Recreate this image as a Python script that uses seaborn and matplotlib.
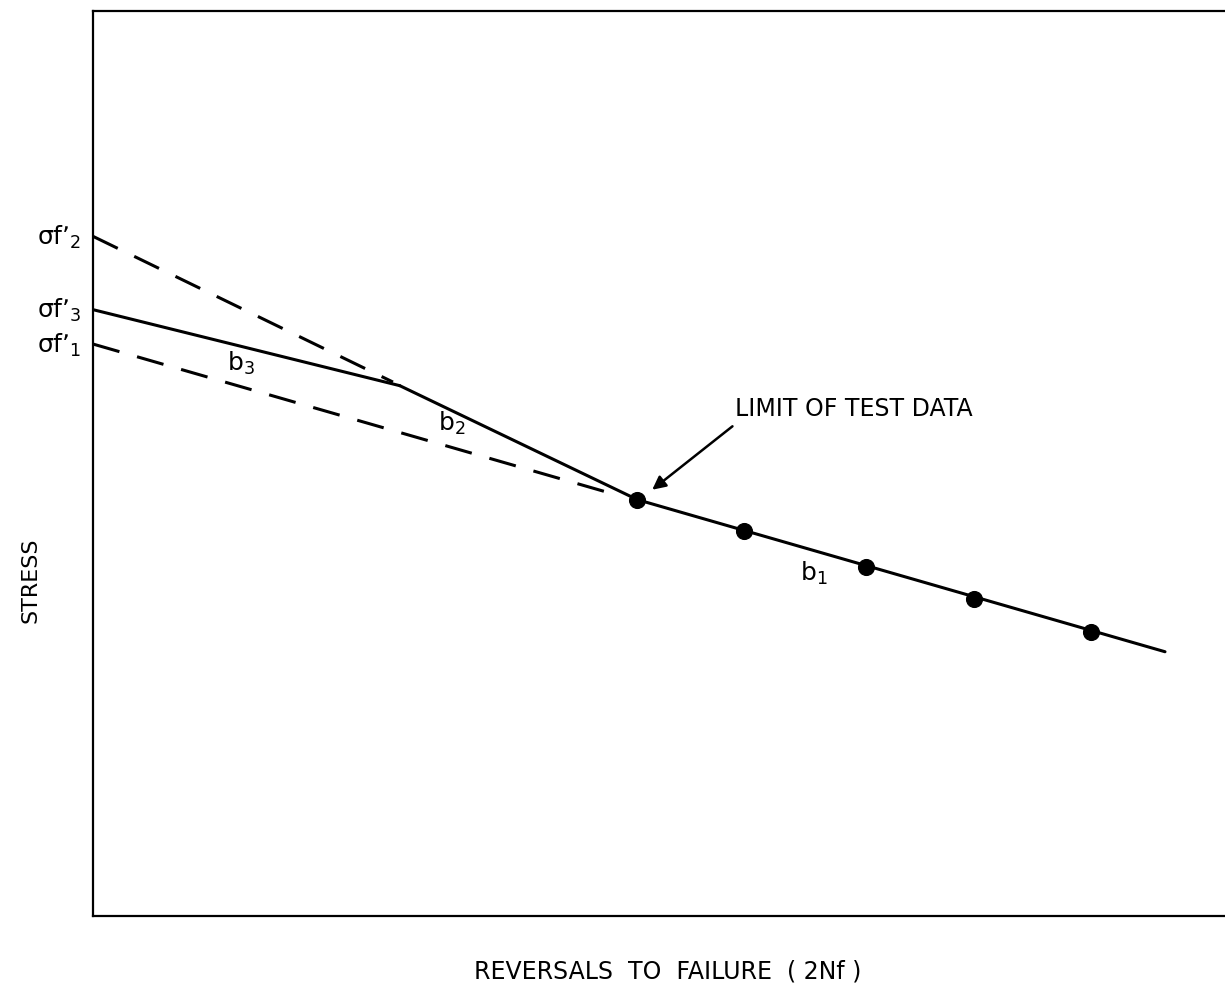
import matplotlib
matplotlib.use("Agg")
import matplotlib.pyplot as plt
import seaborn as sns

# --- data (arbitrary log units) ---
test_x = [4.81, 5.75, 6.83, 7.78, 8.82]
test_y = [4.60, 4.25, 3.86, 3.50, 3.14]

b1_x = [4.81, 9.47]
b1_y = [4.60, 2.92]
b2_x = [2.71, 4.81]
b2_y = [5.86, 4.60]
b3_x = [0.0, 2.71]
b3_y = [6.70, 5.86]

dash2_x = [0.0, 2.65]
dash2_y = [7.51, 5.90]
dash1_x = [0.0, 4.66]
dash1_y = [6.32, 4.64]

sigma_labels = ["σf’$_2$", "σf’$_3$", "σf’$_1$"]
sigma_y = [7.51, 6.70, 6.32]

slope_labels = ["b$_3$", "b$_2$", "b$_1$"]
slope_x = [1.31, 3.17, 6.37]
slope_y = [6.12, 5.45, 3.80]

sns.set_style("white")
plt.rcParams['font.family'] = ['DejaVu Sans']
plt.rcParams['mathtext.default'] = 'regular'

fig = plt.figure(figsize=(12.25, 9.87), dpi=100)
ax = fig.add_axes([93/1225, 1 - 917/987, 1.0 - 93/1225, (917-12)/987])

lw = 2.2
for xs, ys in [(b1_x, b1_y), (b2_x, b2_y), (b3_x, b3_y)]:
    sns.lineplot(x=xs, y=ys, ax=ax, color="black", linewidth=lw, sort=False)
for xs, ys in [(dash2_x, dash2_y), (dash1_x, dash1_y)]:
    sns.lineplot(x=xs, y=ys, ax=ax, color="black", linewidth=lw, sort=False)
    ax.lines[-1].set_dashes((9, 6))

sns.scatterplot(x=test_x, y=test_y, ax=ax, color="black", s=130, edgecolor="black", zorder=5)

ax.set_xlim(0, 10)
ax.set_ylim(0, 10)
ax.set_xticks([])
ax.set_yticks([])
for side in ["left", "bottom", "top"]:
    ax.spines[side].set_linewidth(1.6)
    ax.spines[side].set_color("black")
ax.spines["right"].set_visible(False)

for lab, yv in zip(sigma_labels, sigma_y):
    ax.text(-0.1, yv, lab, ha="right", va="center", fontsize=18, color="black", clip_on=False)

for lab, xv, yv in zip(slope_labels, slope_x, slope_y):
    ax.text(xv, yv, lab, ha="center", va="center", fontsize=18, color="black")

ax.annotate("LIMIT OF TEST DATA", xy=(4.94, 4.71), xytext=(5.67, 5.61),
            fontsize=17, ha="left", va="center", color="black",
            arrowprops=dict(arrowstyle="-|>", color="black", lw=1.8,
                            shrinkA=0, shrinkB=0, mutation_scale=20,
                            relpos=(-0.01, -0.25)))

fig.text(30/1225, 1 - 580/987, "STRESS", rotation=90, ha="center", va="center", fontsize=16, color="black")
fig.text(668/1225, 1 - 972/987, "REVERSALS  TO  FAILURE  ( 2Nf )", ha="center", va="center", fontsize=17, color="black")

fig.savefig("out.png", dpi=100, facecolor="white")
